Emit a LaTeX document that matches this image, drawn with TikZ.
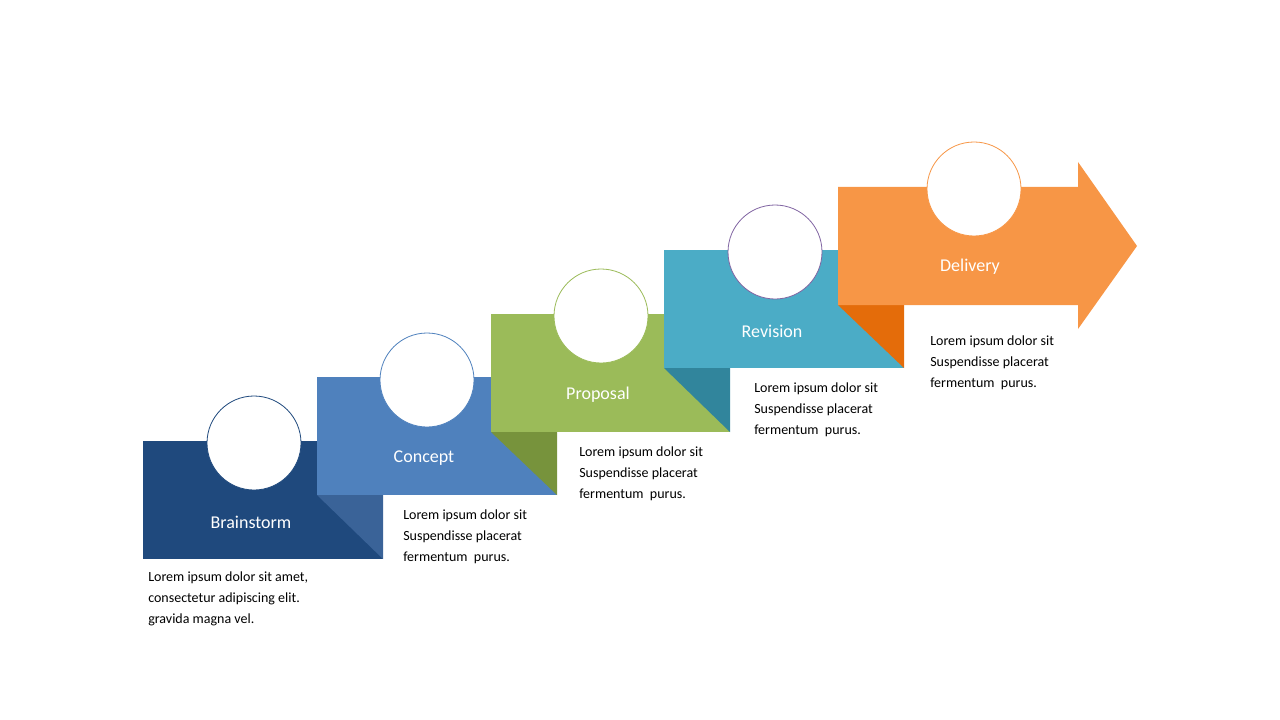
\documentclass[tikz,border=0pt]{standalone}
\usepackage{fontspec}
\setmainfont{Carlito}
\usetikzlibrary{positioning}
\definecolor{cBrain}{HTML}{1F497D}
\definecolor{cConc}{HTML}{4F81BD}
\definecolor{cConcD}{HTML}{3A6398}
\definecolor{cProp}{HTML}{9BBB59}
\definecolor{cPropD}{HTML}{77933C}
\definecolor{cRev}{HTML}{4BACC6}
\definecolor{cRevD}{HTML}{31859C}
\definecolor{cDel}{HTML}{F79646}
\definecolor{cDelD}{HTML}{E46C0A}
\definecolor{cPurp}{HTML}{8064A2}
\tikzset{
  stage/.style={inner sep=0pt, text=white, font=\fontsize{13.5}{16}\selectfont},
  ring/.style={circle, fill=white, draw=#1, line width=0.6pt, minimum size=70.5pt, inner sep=0pt},
  note/.style={inner sep=0pt, align=left, anchor=north west, font=\fontsize{10.5}{15.75}\selectfont}
}
\begin{document}
\begin{tikzpicture}[x=0.75pt, y=-0.75pt]
  \useasboundingbox (0,0) rectangle (1280,720);
  % Brainstorm
  \fill [cBrain] (143,441) rectangle (383,559);
  \node [ring=cBrain] (r1) at (254,443) {};
  \node [stage] (s1) at (251,522) {Brainstorm};
  % Concept
  \fill [cConcD] (317,495) -- (383,495) -- (383,559) -- cycle;
  \fill [cConc] (317,377) rectangle (557,495);
  \node [ring=cConc] (r2) at (427,380) {};
  \node [stage] (s2) at (424,458) {Concept};
  % Proposal
  \fill [cPropD] (491,432) -- (557,432) -- (557,495) -- cycle;
  \fill [cProp] (491,314) rectangle (730,432);
  \node [ring=cProp] (r3) at (601,316) {};
  \node [stage] (s3) at (598,395) {Proposal};
  % Revision
  \fill [cRevD] (664,368) -- (730,368) -- (730,432) -- cycle;
  \fill [cRev] (664,250) rectangle (904,368);
  \node [ring=cPurp] (r4) at (775,252) {};
  \node [stage] (s4) at (772,331) {Revision};
  % Delivery
  \fill [cDelD] (838,305) -- (904,305) -- (904,368) -- cycle;
  \fill [cDel] (838,187) -- (1078,187) -- (1078,162) -- (1137,246) -- (1078,329) -- (1078,305) -- (838,305) -- cycle;
  \node [ring=cDel] (r5) at (974,189) {};
  \node [stage] (s5) at (970,267) {Delivery};
  % Notes
  \node [note] (t1) at (148,572) {Lorem ipsum dolor sit amet,\\consectetur adipiscing elit.\\gravida magna vel.};
  \node [note] (t2) at (403,510) {Lorem ipsum dolor sit\\Suspendisse placerat\\fermentum\ \ purus.};
  \node [note] (t3) at (579,447) {Lorem ipsum dolor sit\\Suspendisse placerat\\fermentum\ \ purus.};
  \node [note] (t4) at (754,383) {Lorem ipsum dolor sit\\Suspendisse placerat\\fermentum\ \ purus.};
  \node [note] (t5) at (930,336) {Lorem ipsum dolor sit\\Suspendisse placerat\\fermentum\ \ purus.};
\end{tikzpicture}
\end{document}
